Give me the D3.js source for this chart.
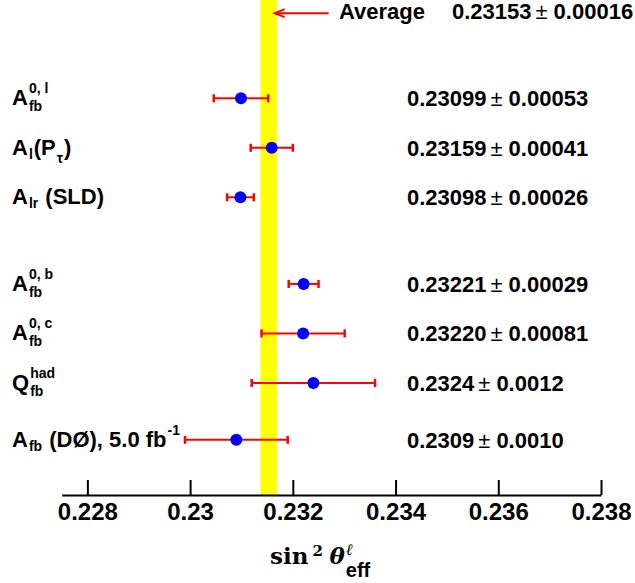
<!DOCTYPE html>
<html><head><meta charset="utf-8">
<script src="https://cdn.jsdelivr.net/npm/d3@7"></script>
<style>body{margin:0;background:#fff}svg{display:block}</style>
</head><body><svg id="c" width="635" height="583"></svg>
<script>
// ---------- data ----------
const categories = [
  "A_{fb}^{0, l}",
  "A_{l}(P_{τ})",
  "A_{lr} (SLD)",
  "A_{fb}^{0, b}",
  "A_{fb}^{0, c}",
  "Q_{fb}^{had}",
  "A_{fb} (DØ), 5.0 fb^{-1}"
];
const values = [0.23099, 0.23159, 0.23098, 0.23221, 0.23220, 0.2324, 0.2309];
const errors = [0.00053, 0.00041, 0.00026, 0.00029, 0.00081, 0.0012, 0.0010];
const valueLabels = ["0.23099", "0.23159", "0.23098", "0.23221", "0.23220", "0.2324", "0.2309"];
const errorLabels = ["0.00053", "0.00041", "0.00026", "0.00029", "0.00081", "0.0012", "0.0010"];
const averageName = "Average";
const averageValue = 0.23153;
const averageError = 0.00016;
const averageValueLabel = "0.23153";
const averageErrorLabel = "0.00016";
const xTicks = [0.228, 0.230, 0.232, 0.234, 0.236, 0.238];
const xTickLabels = ["0.228", "0.23", "0.232", "0.234", "0.236", "0.238"];

// ---------- layout ----------
const rowSlots = [0, 1, 2, 3.75, 4.75, 5.75, 6.9];
const averageSlot = -1.72;
const axisY = 495;
const SANS = "'Liberation Sans', Arial, Helvetica, sans-serif";
const SERIF = "'DejaVu Serif', serif";

const svg = d3.select("#c");
const x = d3.scaleLinear().domain([0.2275, 0.238]).range([61.7, 601]);
const y = d3.scaleLinear().domain([0, 1]).range([98.3, 147.8]);

// average band
svg.append("rect")
  .attr("x", x(averageValue - averageError))
  .attr("y", 0)
  .attr("width", x(averageValue + averageError) - x(averageValue - averageError))
  .attr("height", axisY)
  .attr("fill", "#ffff00");

// axis
const axis = d3.axisBottom(x)
  .tickValues(xTicks)
  .tickFormat((d, i) => xTickLabels[i])
  .tickSizeInner(-15)
  .tickSizeOuter(0)
  .tickPadding(8);
const gAx = svg.append("g").attr("transform", `translate(0,${axisY})`).call(axis);
gAx.select(".domain").attr("stroke", "#000").attr("stroke-width", 2);
gAx.selectAll(".tick line").attr("stroke", "#000").attr("stroke-width", 2);
gAx.selectAll(".tick text")
  .attr("fill", "#000")
  .style("font-family", SANS)
  .style("font-size", "24px")
  .style("font-weight", "bold");

// axis title: sin^2 theta^l_eff
const title = svg.append("g");
const sinT = title.append("text").attr("x", 270).attr("y", 564)
  .style("font-family", SERIF).style("font-size", "23px").style("font-weight", "bold")
  .text("sin");
const sinEnd = 270 + sinT.node().getComputedTextLength();
title.append("text").attr("x", sinEnd + 4).attr("y", 556)
  .style("font-family", SERIF).style("font-size", "15px").style("font-weight", "bold")
  .text("2");
const thT = title.append("text").attr("x", sinEnd + 21).attr("y", 564)
  .style("font-family", SERIF).style("font-size", "23px").style("font-weight", "bold").style("font-style", "italic")
  .text("θ");
const thEnd = sinEnd + 21 + thT.node().getComputedTextLength();
title.append("text").attr("x", thEnd + 1).attr("y", 555)
  .style("font-family", SERIF).style("font-size", "16px").style("font-style", "italic")
  .text("ℓ");
title.append("text").attr("x", thEnd + 1).attr("y", 577)
  .style("font-family", SANS).style("font-size", "20px").style("font-weight", "bold")
  .text("eff");

// parse simple latex-ish labels
function parseLabel(s) {
  const segs = [];
  let i = 0, buf = "";
  const grab = (start) => { const end = s.indexOf("}", start); return [s.slice(start, end), end + 1]; };
  while (i < s.length) {
    if ((s[i] === "_" || s[i] === "^") && s[i + 1] === "{") {
      if (buf) { segs.push({ t: buf }); buf = ""; }
      let seg = {};
      if (s[i] === "_") {
        const [t, n] = grab(i + 2); seg.sub = t; i = n;
        if (s[i] === "^" && s[i + 1] === "{") { const [t2, n2] = grab(i + 2); seg.sup = t2; i = n2; }
      } else {
        const [t, n] = grab(i + 2); seg.sup = t; i = n;
      }
      segs.push(seg);
    } else { buf += s[i]; i++; }
  }
  if (buf) segs.push({ t: buf });
  return segs;
}

function drawLabel(g, str, x0, base) {
  let cx = x0;
  parseLabel(str).forEach(seg => {
    if (seg.t !== undefined) {
      const t = g.append("text").attr("x", cx).attr("y", base)
        .style("font-family", SANS).style("font-size", "22px").style("font-weight", "bold")
        .style("white-space", "pre").attr("xml:space", "preserve").text(seg.t);
      cx += t.node().getComputedTextLength();
    } else {
      let w = 0;
      const sx = cx + 1;
      if (seg.sub !== undefined) {
        const off = seg.sub === "τ" ? 8 : (seg.sup !== undefined ? 6 : 4);
        const t = g.append("text").attr("x", sx).attr("y", base + off)
          .style("font-family", SANS).style("font-size", "14px").style("font-weight", "bold")
          .text(seg.sub);
        w = Math.max(w, t.node().getComputedTextLength());
      }
      if (seg.sup !== undefined) {
        const t = g.append("text").attr("x", sx).attr("y", base - 12)
          .style("font-family", SANS).style("font-size", "14px").style("font-weight", "bold")
          .text(seg.sup);
        w = Math.max(w, t.node().getComputedTextLength());
      }
      cx = sx + w + 1;
    }
  });
}

function drawValue(g, xv, base, v, e) {
  const a = g.append("text").attr("x", xv).attr("y", base)
    .style("font-family", SANS).style("font-size", "22px").style("font-weight", "bold").text(v);
  const x1 = xv + a.node().getComputedTextLength() + 4;
  const b = g.append("text").attr("x", x1).attr("y", base)
    .style("font-family", SANS).style("font-size", "22px").text("±");
  const x2 = x1 + b.node().getComputedTextLength() + 6;
  g.append("text").attr("x", x2).attr("y", base)
    .style("font-family", SANS).style("font-size", "22px").style("font-weight", "bold").text(e);
}

// rows
const rows = svg.append("g");
values.forEach((v, i) => {
  const cy = y(rowSlots[i]);
  const g = rows.append("g");
  drawLabel(g, categories[i], 12, cy + 7);
  drawValue(g, 407, cy + 8, valueLabels[i], errorLabels[i]);
  const xl = x(v - errors[i]), xr = x(v + errors[i]);
  g.append("line").attr("x1", xl).attr("x2", xr).attr("y1", cy).attr("y2", cy)
    .attr("stroke", "#ff0000").attr("stroke-width", 2);
  [xl, xr].forEach(xx => g.append("line").attr("x1", xx).attr("x2", xx)
    .attr("y1", cy - 4).attr("y2", cy + 4).attr("stroke", "#ff0000").attr("stroke-width", 2.5));
  g.append("circle").attr("cx", x(v)).attr("cy", cy).attr("r", 6).attr("fill", "#0000ff");
});

// average annotation
const ay = y(averageSlot);
const tipX = x(averageValue) + 6;
const ga = svg.append("g");
ga.append("line").attr("x1", tipX).attr("x2", tipX + 54).attr("y1", ay).attr("y2", ay)
  .attr("stroke", "#ff0000").attr("stroke-width", 2);
ga.append("polyline")
  .attr("points", `${tipX + 10},${ay - 4} ${tipX},${ay} ${tipX + 10},${ay + 4}`)
  .attr("fill", "none").attr("stroke", "#ff0000").attr("stroke-width", 2);
ga.append("text").attr("x", 339).attr("y", ay + 6)
  .style("font-family", SANS).style("font-size", "22px").style("font-weight", "bold").text(averageName);
drawValue(ga, 452, ay + 6, averageValueLabel, averageErrorLabel);
</script>
</body></html>
